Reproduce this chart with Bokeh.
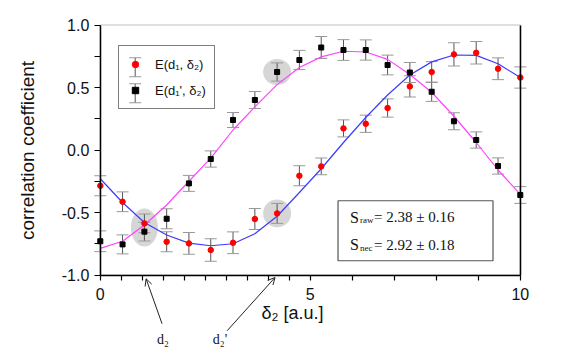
from bokeh.plotting import figure
from bokeh.models import (Range1d, FixedTicker, PrintfTickFormatter, Whisker, TeeHead,
                          ColumnDataSource, Legend, LegendItem, Label, Arrow, OpenHead,
                          BoxAnnotation, LinearAxis)
from bokeh.embed import file_html
from bokeh.resources import INLINE

# ---- data ----
delta2 = [0.0, 0.53, 1.05, 1.58, 2.11, 2.63, 3.16, 3.68, 4.21, 4.74,
          5.26, 5.79, 6.32, 6.84, 7.37, 7.89, 8.42, 8.95, 9.47, 10.0]
e_d1 = [-0.286, -0.414, -0.587, -0.734, -0.747, -0.80, -0.742, -0.552, -0.507, -0.206,
        -0.131, 0.173, 0.21, 0.336, 0.509, 0.624, 0.765, 0.778, 0.65, 0.58]
e_d1_err = [0.08, 0.079, 0.075, 0.08, 0.087, 0.09, 0.087, 0.084, 0.08, 0.08,
            0.067, 0.068, 0.069, 0.073, 0.085, 0.083, 0.093, 0.09, 0.087, 0.085]
e_d1p = [-0.73, -0.755, -0.653, -0.55, -0.267, -0.072, 0.24, 0.40, 0.624, 0.72,
         0.82, 0.80, 0.80, 0.68, 0.62, 0.466, 0.23, 0.08, -0.128, -0.36]
e_d1p_err = [0.083, 0.076, 0.075, 0.08, 0.064, 0.065, 0.06, 0.068, 0.073, 0.077,
             0.088, 0.083, 0.081, 0.079, 0.08, 0.077, 0.068, 0.065, 0.065, 0.067]
fit_d1 = [-0.23, -0.42, -0.58, -0.68, -0.745, -0.766, -0.75, -0.67, -0.53, -0.34,
          -0.15, 0.06, 0.26, 0.44, 0.60, 0.705, 0.76, 0.757, 0.69, 0.58]
fit_d1p = [-0.787, -0.73, -0.60, -0.44, -0.25, -0.065, 0.16, 0.345, 0.523, 0.66,
           0.745, 0.79, 0.784, 0.725, 0.604, 0.462, 0.27, 0.06, -0.16, -0.355]
highlight_x = [1.05, 4.21, 4.21]
highlight_y = [-0.62, -0.507, 0.624]
x_ticks = [0, 5, 10]
x_minor = [0.5, 1, 1.5, 2, 2.5, 3, 3.5, 4, 4.5, 6, 7, 8, 9]
y_ticks = [-1.0, -0.5, 0.0, 0.5, 1.0]
y_minor = [-0.75, -0.25, 0.25, 0.75]
label_d1 = "E(d\u2081, \u03b4\u2082)"
label_d1p = "E(d\u2081', \u03b4\u2082)"
s_raw = "= 2.38 \u00b1 0.16"
s_nec = "= 2.92 \u00b1 0.18"

SANS = "Liberation Sans"
SERIF = "Liberation Serif"
RED = "#ff0000"
MAGENTA = "#ff44ff"
BLUE = "#3b3bff"

W, H = 565, 350
PX_X, PX_Y = 42.0, 125.0          # pixels per data unit
X0_PX, Y1_PX = 99.8, 24.5         # canvas position of x=0 and of y=1
x_lo = -X0_PX / PX_X
y_hi = 1.0 + Y1_PX / PX_Y

p = figure(width=W, height=H,
           x_range=Range1d(x_lo, x_lo + W / PX_X),
           y_range=Range1d(y_hi - H / PX_Y, y_hi),
           output_backend="svg", toolbar_location=None,
           min_border_left=0, min_border_right=0, min_border_top=0, min_border_bottom=0)
p.xgrid.visible = False
p.ygrid.visible = False
p.outline_line_color = None
p.background_fill_color = "white"
p.border_fill_color = "white"

# main axes at fixed positions
xa = p.xaxis[0]
ya = p.yaxis[0]
xa.fixed_location = -1.0
xa.bounds = (0, 10)
ya.fixed_location = 0.0
ya.bounds = (-1, 1)
xa.ticker = FixedTicker(ticks=x_ticks, minor_ticks=x_minor)
ya.ticker = FixedTicker(ticks=y_ticks, minor_ticks=y_minor)
ya.formatter = PrintfTickFormatter(format="%.1f")
for ax in (xa, ya):
    ax.axis_line_color = "black"
    ax.axis_line_width = 1.5
    ax.major_tick_in = 0
    ax.minor_tick_in = 0
    ax.major_tick_line_color = "black"
    ax.minor_tick_line_color = "black"
    ax.major_tick_line_width = 1.2
    ax.minor_tick_line_width = 1.2
    ax.major_label_text_font = SANS
    ax.major_label_text_font_size = "16px"
    ax.major_label_text_color = "#111111"
xa.major_tick_out = 5
xa.minor_tick_out = 5
ya.major_tick_out = 6
ya.minor_tick_out = 6
xa.major_label_standoff = 8
ya.major_label_standoff = 5
ya.axis_label = "correlation coefficient"
ya.axis_label_text_font = SANS
ya.axis_label_text_font_style = "normal"
ya.axis_label_text_font_size = "19px"
ya.axis_label_text_color = "#111111"
ya.axis_label_standoff = 21

# plot box: grey top, black right (left/bottom are the axes)
p.add_layout(BoxAnnotation(left=0, right=10, bottom=-1, top=1, fill_alpha=0,
                           line_color="#777777", line_width=1.5, level="underlay"))
right_line = LinearAxis(fixed_location=10, bounds=(-1, 1), ticker=FixedTicker(ticks=[]),
                        axis_line_color="black", axis_line_width=1.5,
                        major_tick_out=0, minor_tick_out=0, major_label_text_alpha=0)
p.add_layout(right_line, "right")

# highlight discs
hl = p.ellipse(x=highlight_x, y=highlight_y, width=[27, 28, 28], height=[38, 28, 26],
               width_units="screen", height_units="screen",
               fill_color="#d6d6d6", line_color=None)
hl.level = "image"

# error bars
src1 = ColumnDataSource(dict(x=delta2, y=e_d1,
                             lo=[v - e for v, e in zip(e_d1, e_d1_err)],
                             hi=[v + e for v, e in zip(e_d1, e_d1_err)]))
src2 = ColumnDataSource(dict(x=delta2, y=e_d1p,
                             lo=[v - e for v, e in zip(e_d1p, e_d1p_err)],
                             hi=[v + e for v, e in zip(e_d1p, e_d1p_err)]))
for s in (src1, src2):
    w = Whisker(source=s, base="x", upper="hi", lower="lo", line_color="#555555", line_width=1,
                upper_head=TeeHead(size=12, line_color="#999999", line_width=1),
                lower_head=TeeHead(size=12, line_color="#999999", line_width=1),
                level="underlay")
    p.add_layout(w)

# fitted curves
p.line(delta2, fit_d1p, line_color=MAGENTA, line_width=1.2)
p.line(delta2, fit_d1, line_color=BLUE, line_width=1.2)

# points
r_red = p.scatter("x", "y", source=src1, marker="circle", size=5.5, fill_color=RED, line_color=RED)
r_blk = p.scatter("x", "y", source=src2, marker="square", size=5, fill_color="black", line_color="black")

# error-bar icons of the legend (legend box is transparent, so these show through)
for yc in (0.662, 0.454):
    p.add_layout(Arrow(start=None, end=None, x_start=0.831, x_end=0.831, y_start=yc - 0.076,
                       y_end=yc + 0.076, line_color="#555555", line_width=1))
    for yy in (yc - 0.076, yc + 0.076):
        p.add_layout(Arrow(start=None, end=None, x_start=0.688, x_end=0.974, y_start=yy,
                           y_end=yy, line_color="#999999", line_width=1))

legend = Legend(items=[LegendItem(label=label_d1, renderers=[r_red]),
                       LegendItem(label=label_d1p, renderers=[r_blk])],
                location=(118, 241), padding=8, spacing=6, glyph_width=16, glyph_height=20,
                label_height=20, label_standoff=12, margin=0,
                label_text_font=SANS, label_text_font_size="13px", label_text_color="#111111",
                border_line_color="black", border_line_width=1,
                background_fill_alpha=0.0)
p.add_layout(legend, "center")

# S values box
p.add_layout(BoxAnnotation(left=5.66, right=9.35, top=-0.406, bottom=-0.886,
                           fill_color="white", fill_alpha=1.0, line_color="#555555",
                           line_width=1.2, line_alpha=1.0))
for yb, sub, txt in ((-0.538, "raw", s_raw), (-0.758, "nec", s_nec)):
    p.add_layout(Label(x=5.945, y=yb, text="S", text_font=SERIF, text_font_size="16px",
                       text_baseline="alphabetic", text_color="#111111"))
    p.add_layout(Label(x=5.945, y=yb, x_offset=10, y_offset=-3, text=sub, text_font=SERIF,
                       text_font_size="9px", text_baseline="alphabetic", text_color="#111111"))
    p.add_layout(Label(x=5.945, y=yb, x_offset=24, text=txt, text_font=SERIF,
                       text_font_size="15px", text_baseline="alphabetic", text_color="#111111"))

# x axis label
p.add_layout(Label(x=4.576, y=-1.30, text="\u03b4\u2082 [a.u.]", text_font=SANS,
                   text_font_size="18px", text_align="center", text_baseline="middle",
                   text_color="#111111"))

# d2 / d2' arrows
p.add_layout(Arrow(end=OpenHead(size=7, line_width=1, line_color="#222222"),
                   x_start=1.47, y_start=-1.39, x_end=1.09, y_end=-1.03,
                   line_width=1, line_color="#222222"))
p.add_layout(Arrow(end=OpenHead(size=7, line_width=1, line_color="#222222"),
                   x_start=3.02, y_start=-1.446, x_end=4.16, y_end=-1.02,
                   line_width=1, line_color="#222222"))
p.add_layout(Label(x=1.49, y=-1.516, text="d\u2082", text_font=SERIF, text_font_size="14px",
                   text_align="center", text_baseline="middle", text_color="#111111"))
p.add_layout(Label(x=2.85, y=-1.516, text="d\u2082'", text_font=SERIF, text_font_size="14px",
                   text_align="center", text_baseline="middle", text_color="#111111"))

open("out.html", "w").write(file_html(p, INLINE))
